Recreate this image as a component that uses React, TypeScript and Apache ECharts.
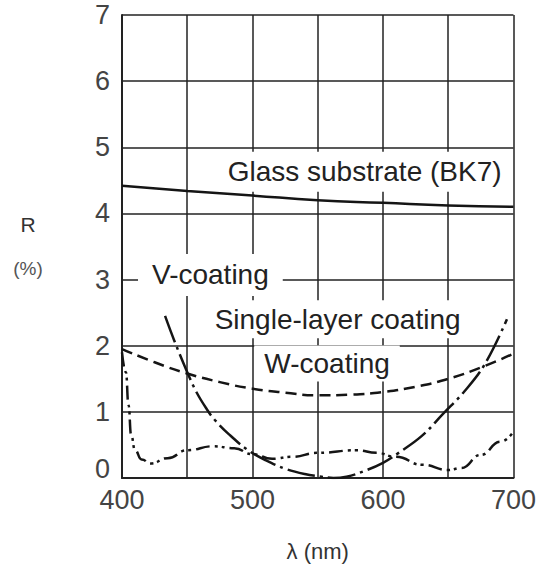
import React, { useEffect, useRef } from "react";
import * as echarts from "echarts";

const xTicks = [400, 450, 500, 550, 600, 650, 700];
const yTicks = [0, 1, 2, 3, 4, 5, 6, 7];

const glassSubstrate: [number, number][] = [
  [400, 4.42], [450, 4.34], [500, 4.27], [550, 4.2], [600, 4.16], [650, 4.12], [700, 4.1],
];

const singleLayer: [number, number][] = [
  [400, 1.95], [425, 1.75], [450, 1.58], [475, 1.45], [500, 1.35], [525, 1.29],
  [550, 1.25], [575, 1.26], [600, 1.3], [625, 1.38], [650, 1.5], [675, 1.67], [700, 1.88],
];

const vCoating: [number, number][] = [
  [433, 2.45], [440, 2.08], [450, 1.6], [457, 1.3], [465, 1.04], [471, 0.88], [482, 0.66],
  [496, 0.43], [510, 0.27], [525, 0.14], [540, 0.06], [553, 0.02], [562, 0.0], [572, 0.02],
  [585, 0.1], [600, 0.23], [612, 0.38], [630, 0.64], [646, 0.97], [662, 1.3], [678, 1.72],
  [695, 2.4],
];

const wCoating: [number, number][] = [
  [400, 1.9], [403, 1.6], [405, 1.1], [407, 0.65], [410, 0.42], [415, 0.28], [422, 0.22],
  [435, 0.3], [450, 0.42], [470, 0.48], [486, 0.45], [500, 0.36], [515, 0.29], [530, 0.32],
  [550, 0.38], [580, 0.42], [595, 0.38], [610, 0.32], [630, 0.2], [650, 0.12], [660, 0.15],
  [675, 0.35], [690, 0.55], [700, 0.7],
];

// label anchors in data coordinates: [text, x, y, padV, padH]
const curveLabels: [string, number, number, number, number][] = [
  ["Glass substrate (BK7)", 481, 4.63, 6, 10],
  ["V-coating", 423, 3.07, 7, 14],
  ["Single-layer coating", 471, 2.4, 5, 10],
  ["W-coating", 509, 1.73, 4, 10],
];

const FONT = '"Liberation Sans", Arial, sans-serif';

export default function App() {
  const ref = useRef<HTMLDivElement>(null);
  useEffect(() => {
    document.body.style.margin = "0";
    if (!ref.current) return;
    const chart = echarts.init(ref.current, undefined, { renderer: "svg" });
    const lineColor = "#151515";
    const gridColor = "#222";
    const option: any = {
      animation: false,
      backgroundColor: "#fff",
      grid: { left: 122, right: 23, top: 15, bottom: 88, containLabel: false },
      xAxis: {
        type: "value",
        min: xTicks[0],
        max: xTicks[xTicks.length - 1],
        interval: 50,
        axisLine: { show: true, lineStyle: { color: gridColor, width: 2 } },
        axisTick: { show: false },
        splitLine: { show: true, lineStyle: { color: gridColor, width: 1.5 } },
        axisLabel: {
          formatter: (v: number) => (v % 100 === 0 ? String(v) : ""),
          fontSize: 27,
          color: "#444",
          margin: 8,
          fontFamily: FONT,
        },
        name: "λ (nm)",
        nameLocation: "middle",
        nameGap: 62,
        nameTextStyle: { fontSize: 22, color: "#333", fontFamily: FONT },
      },
      yAxis: {
        type: "value",
        min: yTicks[0],
        max: yTicks[yTicks.length - 1],
        interval: 1,
        axisLine: { show: true, lineStyle: { color: gridColor, width: 2 } },
        axisTick: { show: false },
        splitLine: { show: true, lineStyle: { color: gridColor, width: 1.5 } },
        axisLabel: {
          fontSize: 27,
          color: "#444",
          margin: 12,
          fontFamily: FONT,
          formatter: (v: number) => (v === 0 ? "{z|0}" : String(v)),
          rich: {
            z: { fontSize: 27, color: "#444", fontFamily: FONT, padding: [0, 0, 18, 0] },
          },
        },
      },
      series: [
        {
          name: "Glass substrate (BK7)",
          type: "line",
          data: glassSubstrate,
          showSymbol: false,
          smooth: true,
          z: 5,
          lineStyle: { color: lineColor, width: 2.5, type: "solid" },
        },
        {
          name: "Single-layer coating",
          type: "line",
          data: singleLayer,
          showSymbol: false,
          smooth: true,
          z: 5,
          lineStyle: { color: lineColor, width: 2.5, type: [11, 6] },
        },
        {
          name: "V-coating",
          type: "line",
          data: vCoating,
          showSymbol: false,
          smooth: 0.4,
          z: 5,
          lineStyle: { color: lineColor, width: 2.5, type: [28, 5, 3, 5] },
        },
        {
          name: "W-coating",
          type: "line",
          data: wCoating,
          showSymbol: false,
          smooth: true,
          smoothMonotone: "x",
          z: 5,
          lineStyle: { color: lineColor, width: 2.5, type: [14, 5, 3, 4, 3, 5] },
        },
      ],
    };
    chart.setOption(option);

    const elements: any[] = curveLabels.map(([text, x, y, pv, ph]) => {
      const p = chart.convertToPixel({ gridIndex: 0 }, [x, y]) as number[];
      return {
        type: "text",
        z: 1,
        x: p[0] - ph,
        y: p[1],
        style: {
          text,
          fill: "#222",
          font: `28px ${FONT}`,
          align: "left",
          verticalAlign: "middle",
          backgroundColor: "#fff",
          padding: [pv, ph],
        },
      };
    });
    elements.push(
      {
        type: "text",
        z: 1,
        x: 28,
        y: 224,
        style: { text: "R", fill: "#333", font: `21px ${FONT}`, align: "center", verticalAlign: "middle" },
      },
      {
        type: "text",
        z: 1,
        x: 28,
        y: 268,
        style: { text: "(%)", fill: "#555", font: `19px ${FONT}`, align: "center", verticalAlign: "middle" },
      }
    );
    chart.setOption({ graphic: { elements } });

    return () => chart.dispose();
  }, []);
  return <div ref={ref} style={{ width: 539, height: 567 }} />;
}
